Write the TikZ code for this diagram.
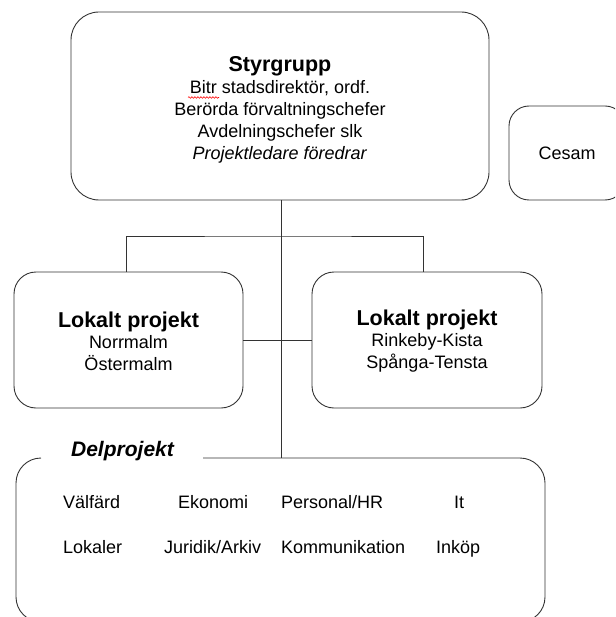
\documentclass[tikz,border=0pt]{standalone}
\usepackage{fontspec}
\setmainfont{Liberation Sans}
\usetikzlibrary{decorations.pathmorphing}
\begin{document}
\begin{tikzpicture}[x=1pt,y=-1pt,
  box/.style={draw=black!80, line width=0.9pt, rounded corners=#1, inner sep=0pt},
  box/.default=25,
  conn/.style={draw=black!80, line width=0.9pt},
  body/.style={font=\fontsize{18}{21.7}\selectfont, align=center, inner sep=0pt},
  head/.style={font=\fontsize{21.5}{22}\selectfont\bfseries},
  item/.style={font=\fontsize{18}{21.7}\selectfont, inner sep=0pt, anchor=base west},
]
\useasboundingbox (0,0) rectangle (615,617);
\clip (0,0) rectangle (615,617);

% boxes
\node[box=28, minimum width=418pt, minimum height=188pt] (sty) at (280,106) {};
\node[box=20, minimum width=116pt, minimum height=94pt] (cesam) at (567,153) {};
\node[box=22, minimum width=229pt, minimum height=136pt] (lokA) at (128.5,340) {};
\node[box=22, minimum width=230pt, minimum height=136pt] (lokB) at (427,340) {};

% texts
\node[body] (stytext) at (280,109.5) {{\fontsize{21.5}{22}\selectfont\bfseries Styrgrupp}\\[1pt]
  Bitr stadsdirektör, ordf.\\ Berörda förvaltningschefer\\ Avdelningschefer slk\\ \textit{Projektledare föredrar}};
\node[body] (cesamtext) at (cesam.center) {Cesam};
\node[body] (lokAtext) at (128.5,341) {{\fontsize{21.5}{22}\selectfont\bfseries Lokalt projekt}\\ Norrmalm\\ Östermalm};
\node[body] (lokBtext) at (427,341) {{\fontsize{21.5}{22}\selectfont\bfseries Lokalt projekt}\\ Rinkeby-Kista\\ Spånga-Tensta};

% spell-check squiggle under "Bitr"
\draw[red, line width=0.6pt, decorate, decoration={snake, amplitude=0.8pt, segment length=3pt}] (188,97.5) -- (219,97.5);

% Delprojekt frame
\coordinate (deltop) at (281,458);
\draw[conn, rounded corners=25] (203,458) -- (545,458) -- (545,622) -- (16,622) -- (16,458) -- (41,458);
\node[font=\fontsize{21}{22}\selectfont\bfseries\itshape, inner sep=0pt, anchor=base] (dellabel) at (122.5,456) {Delprojekt};

\node[item] (i1) at (63,508.5) {Välfärd};
\node[item] (i2) at (178,508.5) {Ekonomi};
\node[item] (i3) at (281,508.5) {Personal/HR};
\node[item] (i4) at (454,508.5) {It};
\node[item] (i5) at (63,553.5) {Lokaler};
\node[item] (i6) at (164,553.5) {Juridik/Arkiv};
\node[item] (i7) at (281,553.5) {Kommunikation};
\node[item] (i8) at (436,553.5) {Inköp};

% connectors
\coordinate (j) at (281,236);
\draw[conn] (sty.south -| deltop) -- (deltop);
\draw[conn] ([xshift=-2.5pt]lokA.north) |- (j) -| ([xshift=-4pt]lokB.north);
\draw[conn] (lokA.east) -- (lokB.west);
\end{tikzpicture}
\end{document}
